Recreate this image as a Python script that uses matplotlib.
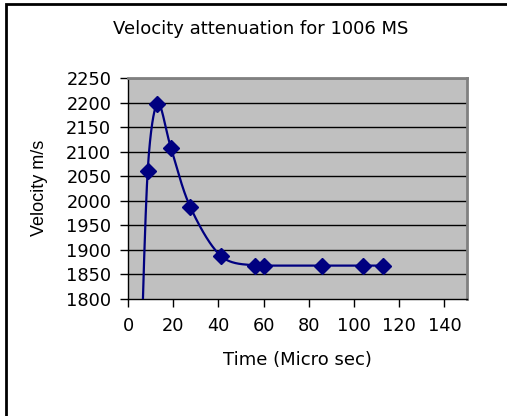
import numpy as np
import matplotlib
matplotlib.use("Agg")
from matplotlib import pyplot as plt
from matplotlib.patches import Rectangle

plt.rcParams['font.family'] = ['DejaVu Sans']

# data (first point lies below the visible range)
time_us = [5.3, 8.7, 13, 19, 27.5, 41, 56, 60, 86, 104, 112.7]
velocity = [1600, 2060, 2198, 2108, 1988, 1888, 1868, 1868, 1868, 1868, 1868]
yticks = [1800, 1850, 1900, 1950, 2000, 2050, 2100, 2150, 2200, 2250]
xticks = [0, 20, 40, 60, 80, 100, 120, 140]

NAVY = "#000080"
W, H = 507, 416
XMIN, XMAX, YMIN, YMAX = 0, 150, 1800, 2250
AX_W, AX_H = 339, 221


def smooth(xs, ys, n=60):
    # excel-like smoothed line: bezier through the points, in pixel space,
    # control arms capped at half the segment length
    px = np.asarray(xs, float) / (XMAX - XMIN) * AX_W
    py = (np.asarray(ys, float) - YMIN) / (YMAX - YMIN) * AX_H
    P = np.column_stack([px, py])
    P = np.vstack([P[0], P, P[-1]])
    t = np.linspace(0, 1, n)[:, None]
    out = []
    for i in range(1, len(P) - 2):
        p0, p3 = P[i], P[i + 1]
        half = np.linalg.norm(p3 - p0) / 2
        a1 = (P[i + 1] - P[i - 1]) / 6
        a2 = (P[i + 2] - P[i]) / 6
        if np.linalg.norm(a1) > half:
            a1 = a1 / np.linalg.norm(a1) * half
        if np.linalg.norm(a2) > half:
            a2 = a2 / np.linalg.norm(a2) * half
        b1, b2 = p0 + a1, p3 - a2
        seg = ((1 - t) ** 3) * p0 + 3 * ((1 - t) ** 2) * t * b1 + 3 * (1 - t) * t ** 2 * b2 + t ** 3 * p3
        out.append(seg)
    out = np.vstack(out)
    return out[:, 0] / AX_W * (XMAX - XMIN), out[:, 1] / AX_H * (YMAX - YMIN) + YMIN


fig = plt.figure(figsize=(W / 100, H / 100), dpi=100)
fig.patch.set_facecolor("white")
fig.add_artist(Rectangle((6 / W, -0.1), 1.2, 1 - 4 / H + 0.1, transform=fig.transFigure,
                         fill=False, edgecolor="black", linewidth=2))

ax = fig.add_axes([128 / W, 1 - 299 / H, AX_W / W, AX_H / H])
ax.set_facecolor("#C0C0C0")
ax.set_xlim(XMIN, XMAX)
ax.set_ylim(YMIN, YMAX)

for v in yticks[1:]:
    ax.axhline(v, color="black", linewidth=1, zorder=1)

sx, sy = smooth(time_us, velocity)
ax.plot(sx, sy, color=NAVY, linewidth=1.6, zorder=3)
ax.plot(time_us, velocity, linestyle="none", marker="D", markersize=8,
        color=NAVY, zorder=4)

ax.set_xticks(xticks)
ax.set_yticks(yticks)
ax.tick_params(direction="out", length=6, width=1, labelsize=12.8, color="black")
ax.tick_params(axis="y", pad=6)
ax.tick_params(axis="x", pad=7)
for s in ["top", "right"]:
    ax.spines[s].set_color("#808080")
    ax.spines[s].set_linewidth(2)
for s in ["left", "bottom"]:
    ax.spines[s].set_color("black")
    ax.spines[s].set_linewidth(1)

fig.text(297.5 / W, 1 - 360 / H, "Time (Micro sec)", fontsize=13, ha="center", va="center")
fig.text(39 / W, 1 - 188 / H, "Velocity m/s", fontsize=13, rotation=90,
         ha="center", va="center", family=["Liberation Sans", "DejaVu Sans"])
fig.text(261 / W, 1 - 29 / H, "Velocity attenuation for 1006 MS", fontsize=13,
         ha="center", va="center")

fig.savefig("out.png", dpi=100)
